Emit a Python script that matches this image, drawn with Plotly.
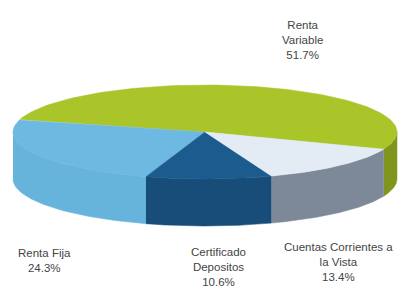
import numpy as np
import plotly.graph_objects as go

# ---- data ----
labels = ["Renta Variable", "Renta Fija", "Certificado Depositos", "Cuentas Corrientes a la Vista"]
values = [51.7, 24.3, 10.6, 13.4]
label_text = ["Renta<br>Variable<br>51.7%", "Renta Fija<br>24.3%",
              "Certificado<br>Depositos<br>10.6%", "Cuentas Corrientes a<br>la Vista<br>13.4%"]

# ---- style ----
top_colors = ["#a9c52a", "#6db9e1", "#1c5b8d", "#e3ebf4"]
side_colors = ["#7f951d", "#66b3dc", "#174d78", "#7d8898"]
label_pos = [(302, 40), (44, 260), (218, 267), (338, 262)]
cx, cy, a, b, h = 205, 132, 192, 47, 47
start = -21.5  # degrees, parametric angle where first slice starts (counter-clockwise)

fig = go.Figure()

total = sum(values)
bounds = [start]
for v in values:
    bounds.append(bounds[-1] + 360 * v / total)

def ex(t):
    return cx + a * np.cos(np.radians(t))

def ey(t):
    return cy - b * np.sin(np.radians(t))

# side walls (front half only: parametric angles 180..360)
for i in range(len(values)):
    t1, t2 = bounds[i], bounds[i + 1]
    for shift in (-360, 0, 360):
        s1, s2 = max(t1 + shift, 180), min(t2 + shift, 360)
        if s2 > s1:
            t = np.linspace(s1, s2, 80)
            xs = np.concatenate([ex(t), ex(t[::-1])])
            ys = np.concatenate([ey(t), ey(t[::-1]) + h])
            fig.add_trace(go.Scatter(x=xs, y=ys, fill="toself", mode="lines",
                                     line=dict(width=0.5, color=side_colors[i]),
                                     fillcolor=side_colors[i], hoverinfo="skip",
                                     showlegend=False))

# top faces
for i in range(len(values)):
    t = np.linspace(bounds[i], bounds[i + 1], 120)
    xs = np.concatenate([[cx], ex(t), [cx]])
    ys = np.concatenate([[cy], ey(t), [cy]])
    fig.add_trace(go.Scatter(x=xs, y=ys, fill="toself", mode="lines",
                             line=dict(width=0.5, color=top_colors[i]),
                             fillcolor=top_colors[i], name=labels[i],
                             hoverinfo="name", showlegend=False))

for txt, (x, y) in zip(label_text, label_pos):
    fig.add_annotation(x=x, y=y, text=txt, showarrow=False, xref="x", yref="y",
                       font=dict(family="Liberation Sans, Arial, sans-serif", size=11.5, color="#444444"),
                       align="center")

fig.update_xaxes(range=[0, 399], visible=False, fixedrange=True)
fig.update_yaxes(range=[290, 0], visible=False, fixedrange=True)
fig.update_layout(width=399, height=290, margin=dict(l=0, r=0, t=0, b=0),
                  paper_bgcolor="white", plot_bgcolor="white")

fig.write_html("out.html", config={"displayModeBar": False},
               post_script="document.body.style.margin='0';document.body.style.overflow='hidden';")
